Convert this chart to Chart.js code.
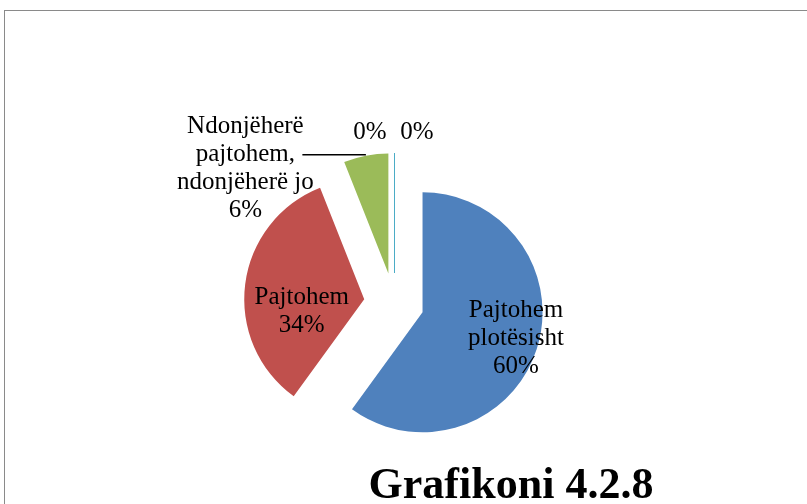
<!DOCTYPE html>
<html>
<head>
<meta charset="utf-8">
<script src="https://cdn.jsdelivr.net/npm/chart.js@4"></script>
<style>
html,body{margin:0;padding:0;width:807px;height:504px;overflow:hidden;background:#fff}
#frame{position:absolute;left:4px;top:10px;width:900px;height:600px;border:1.5px solid #8a8a8a;box-sizing:border-box}
#c{position:absolute;left:0;top:0}
</style>
</head>
<body>
<div id="frame"></div>
<canvas id="c" width="807" height="504"></canvas>
<script>
// ---- data ----
const categories = ["Pajtohem plotësisht", "Pajtohem", "Ndonjëherë pajtohem, ndonjëherë jo", "Nuk pajtohem", "Nuk pajtohem aspak"];
const values = [60, 34, 6, 0, 0];
const labelLines = [["Pajtohem", "plotësisht"], ["Pajtohem"], ["Ndonjëherë", "pajtohem,", "ndonjëherë jo"], [], []];
const chartTitle = "Grafikoni 4.2.8";

// ---- styles / layout ----
const colors = ['#4F81BD', '#C0504D', '#9BBB59', '#8064A2', '#4BACC6'];
const EXPLODE = 30;
const RADIUS = 120;
const LABEL_FONT = "25px 'Liberation Serif', 'Times New Roman', serif";
const TITLE_FONT = "bold 44px 'Liberation Serif', 'Times New Roman', serif";
const LINE_H = 28;
// first-baseline anchor of each label, relative to its exploded slice apex
const labelOffsets = [[93.5, 5], [-62.5, 5], [-143, -141], [-24, -134], [23, -134]];
const leaderSlice = 2;
const leaderStartDx = -86;
const titlePos = [511, 498];

const explodePlugin = {
  id: 'explode',
  afterDatasetUpdate(chart, args) {
    const meta = chart.getDatasetMeta(args.index);
    meta.data.forEach(arc => {
      const mid = (arc.startAngle + arc.endAngle) / 2;
      arc.x += Math.cos(mid) * EXPLODE;
      arc.y += Math.sin(mid) * EXPLODE;
    });
  },
  afterDatasetsDraw(chart) {
    const ctx = chart.ctx;
    const meta = chart.getDatasetMeta(0);
    ctx.save();
    // zero-value slices appear as a thin edge line
    meta.data.forEach((arc, i) => {
      if (values[i] !== 0) return;
      const x0 = Math.round(arc.x) + 0.5;
      ctx.strokeStyle = colors[i];
      ctx.lineWidth = 1;
      ctx.beginPath();
      ctx.moveTo(x0 , arc.y);
      ctx.lineTo(x0 + Math.cos(arc.startAngle) * arc.outerRadius, arc.y + Math.sin(arc.startAngle) * arc.outerRadius);
      ctx.stroke();
    });
    // leader line for the outside label
    const la = meta.data[leaderSlice];
    const lm = (la.startAngle + la.endAngle) / 2;
    const ex = la.x + Math.cos(lm) * la.outerRadius;
    const ey = la.y + Math.sin(lm) * la.outerRadius - 1;
    ctx.strokeStyle = '#000';
    ctx.lineWidth = 1.5;
    ctx.beginPath();
    ctx.moveTo(la.x + leaderStartDx, ey);
    ctx.lineTo(ex, ey);
    ctx.stroke();
    // labels
    ctx.font = LABEL_FONT;
    ctx.fillStyle = '#000';
    ctx.textAlign = 'center';
    ctx.textBaseline = 'alphabetic';
    meta.data.forEach((arc, i) => {
      const lines = [...labelLines[i], values[i] + '%'];
      const [dx, dy] = labelOffsets[i];
      lines.forEach((t, k) => ctx.fillText(t, arc.x + dx, arc.y + dy + k * LINE_H));
    });
    // title
    ctx.font = TITLE_FONT;
    ctx.fillText(chartTitle, titlePos[0], titlePos[1]);
    ctx.restore();
  }
};

new Chart(document.getElementById('c'), {
  type: 'pie',
  data: {
    labels: categories,
    datasets: [{
      data: values,
      backgroundColor: colors,
      borderWidth: 0,
      clip: false
    }]
  },
  options: {
    responsive: false,
    animation: false,
    events: [],
    radius: RADIUS,
    layout: { padding: { left: 0, right: 19, top: 102, bottom: 0 } },
    plugins: { legend: { display: false }, tooltip: { enabled: false }, title: { display: false } }
  },
  plugins: [explodePlugin]
});
</script>
</body>
</html>
